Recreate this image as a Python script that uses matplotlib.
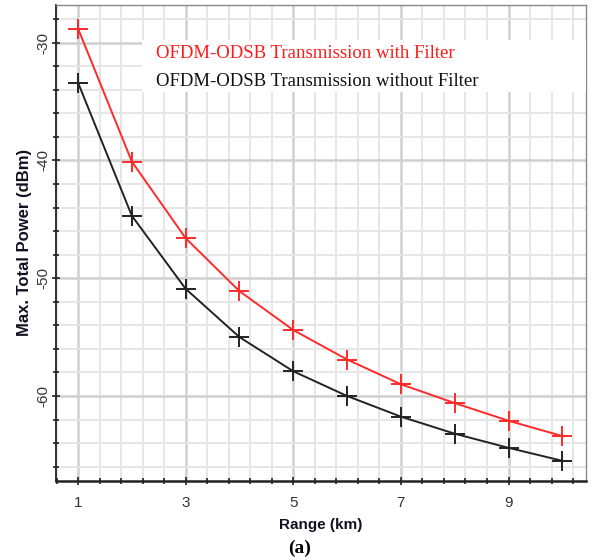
import matplotlib
matplotlib.use("Agg")
import matplotlib.pyplot as plt
from matplotlib.ticker import MultipleLocator, FixedLocator
from matplotlib.patches import Rectangle

plt.rcParams['axes.unicode_minus'] = False

range_km = [1, 2, 3, 4, 5, 6, 7, 8, 9, 10]
with_filter = [-28.8, -40.1, -46.6, -51.1, -54.4, -56.9, -59.0, -60.6, -62.1, -63.4]
without_filter = [-33.4, -44.7, -50.9, -55.0, -57.9, -60.0, -61.75, -63.2, -64.4, -65.5]
series_labels = ["OFDM-ODSB Transmission with Filter", "OFDM-ODSB Transmission without Filter"]
x_ticks = [1, 3, 5, 7, 9]
y_ticks = [-60, -50, -40, -30]

fig = plt.figure(figsize=(5.92, 5.60), dpi=100)
ax = fig.add_axes([56/592, 1-480.7/560, (586-56)/592, (480.7-5)/560])
ax.set_xlim(0.59, 10.44)
ax.set_ylim(-67.19, -26.8)

ax.xaxis.set_major_locator(FixedLocator(x_ticks))
ax.xaxis.set_minor_locator(MultipleLocator(0.4, offset=0.2))
ax.yaxis.set_major_locator(FixedLocator(y_ticks))
ax.yaxis.set_minor_locator(MultipleLocator(2))

ax.grid(True, which='minor', color='#e6e6e6', lw=1.4, zorder=0)
ax.grid(True, which='major', color='#d0d0d0', lw=1.8, zorder=0)
ax.set_axisbelow(True)

# legend background
fig.patches.append(Rectangle((142/592, 1-92/560), (586-142)/592, (92-40)/560,
                             transform=fig.transFigure, facecolor='white', edgecolor='none', zorder=1))

ax.plot(range_km, with_filter, color='#ff2a2a', lw=1.4, marker='+', ms=14, mew=1.4, zorder=3)
ax.plot(range_km, without_filter, color='#222222', lw=1.4, marker='+', ms=14, mew=1.4, zorder=3)

for sp in ['top', 'right']:
    ax.spines[sp].set_linestyle((0, (2, 1)))
    ax.spines[sp].set_color('#888888')
    ax.spines[sp].set_linewidth(1.0)
ax.spines['bottom'].set_color('#222222')
ax.spines['bottom'].set_linewidth(1.8)
ax.spines['left'].set_color('#222222')
ax.spines['left'].set_linewidth(1.3)

ax.tick_params(axis='both', which='major', direction='inout', length=6, width=1.2, color='#222222',
               labelsize=11, labelcolor='#333333')
ax.tick_params(axis='both', which='minor', direction='inout', length=4, width=1.2, color='#222222')
ax.tick_params(axis='x', which='major', pad=8)
ax.tick_params(axis='y', which='major', pad=1)
for lab in ax.get_yticklabels():
    lab.set_rotation(90)
    lab.set_va('center')
for lab in ax.get_xticklabels() + ax.get_yticklabels():
    lab.set_family('Liberation Sans')

ax.set_xlabel("Range (km)", fontsize=11, fontweight='bold', family='Liberation Sans', color='#111122', labelpad=6)
ax.set_ylabel("Max. Total Power (dBm)", fontsize=12, fontweight='bold', family='Liberation Sans', color='#111122', labelpad=3)

fig.text(156/592, 1-53/560, series_labels[0], color='#ff1a1a', fontsize=13.5, family='Liberation Serif',
         va='center', ha='left', zorder=5)
fig.text(156/592, 1-81/560, series_labels[1], color='#111111', fontsize=13.5, family='Liberation Serif',
         va='center', ha='left', zorder=5)
fig.text(300/592, 1-548/560, "(a)", fontsize=14, fontweight='bold', family='Liberation Serif',
         ha='center', va='center')

fig.savefig("out.png", dpi=100)
